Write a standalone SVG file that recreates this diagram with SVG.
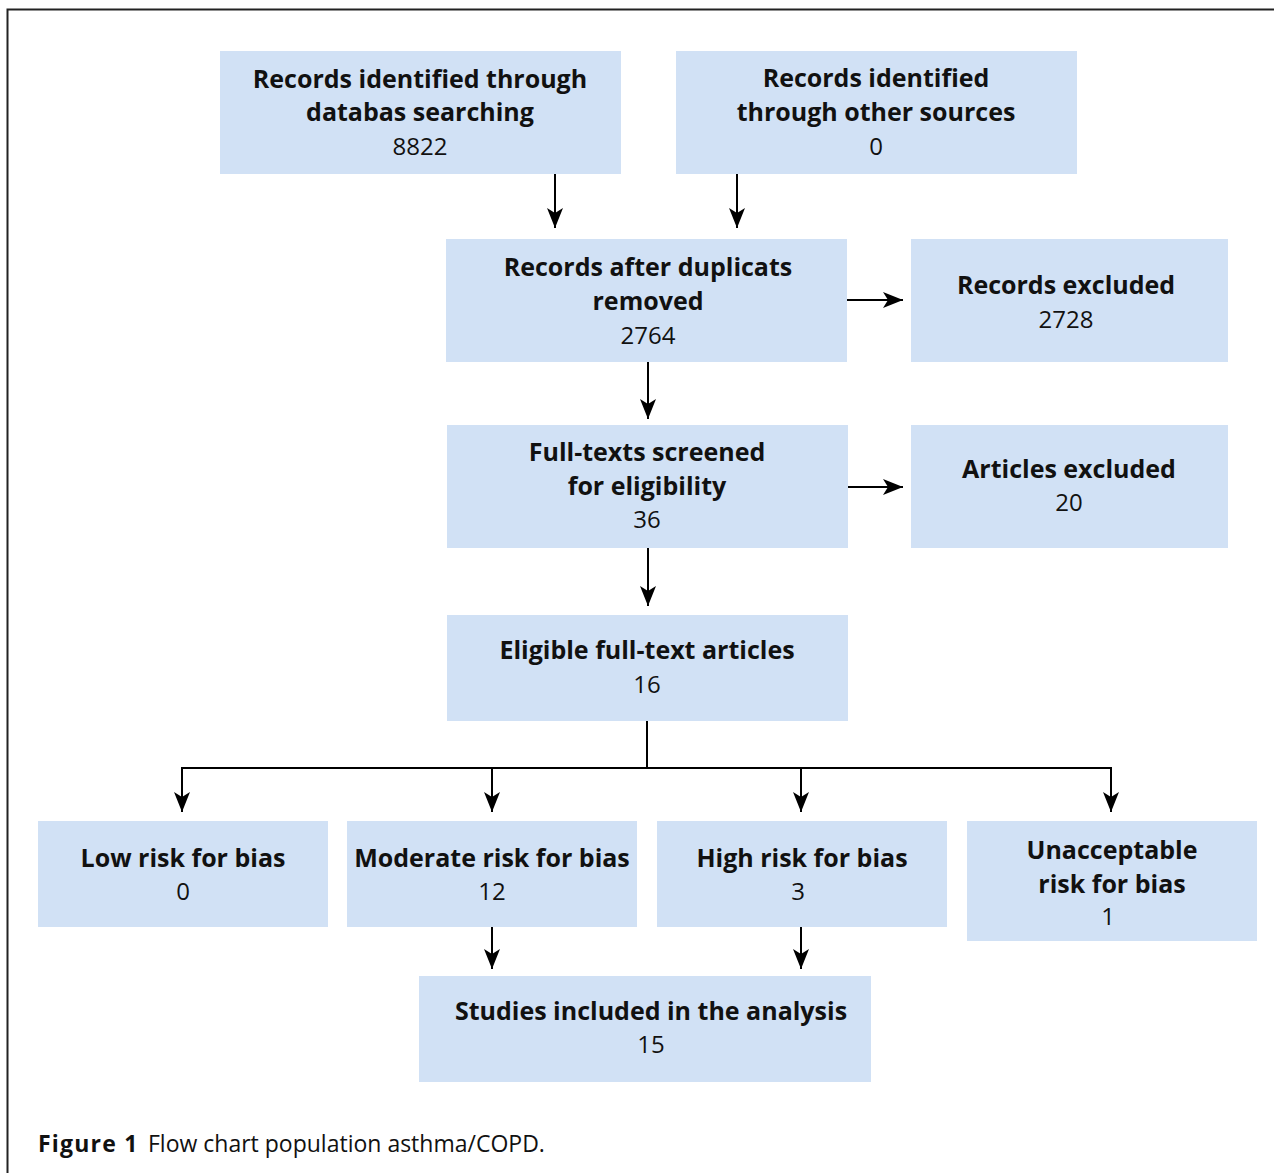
<svg xmlns="http://www.w3.org/2000/svg" width="1274" height="1173" viewBox="0 0 1274 1173">
<style>
.box{fill:#d1e1f5}
.t{font-family:"Open Sans","Noto Sans",sans-serif;font-size:24px;fill:#111;text-anchor:middle}
.b{font-weight:bold;font-size:25px}
.c{stroke:#000;stroke-width:2;fill:none}
</style>
<defs>
<marker id="ah" viewBox="0 0 20 16" refX="20" refY="8" markerWidth="20" markerHeight="16" markerUnits="userSpaceOnUse" orient="auto">
<path d="M0,0 L20,8 L0,16 L5,8 z" fill="#000"/>
</marker>
</defs>
<rect width="1274" height="1173" fill="#fff"/>
<path d="M7.5,1173 V9.5 H1274" stroke="#222" stroke-width="2" fill="none"/>
<g id="n1"><rect class="box" x="220" y="51" width="401" height="123"/>
<text class="t b" x="420" y="88">Records identified through</text><text class="t b" x="420" y="121">databas searching</text><text class="t" x="420" y="155">8822</text></g>
<g id="n2"><rect class="box" x="676" y="51" width="401" height="123"/>
<text class="t b" x="876" y="87">Records identified</text><text class="t b" x="876" y="121">through other sources</text><text class="t" x="876" y="155">0</text></g>
<g id="n3"><rect class="box" x="446" y="239" width="401" height="123"/>
<text class="t b" x="648" y="276">Records after duplicats</text><text class="t b" x="648" y="310">removed</text><text class="t" x="648" y="344">2764</text></g>
<g id="n4"><rect class="box" x="911" y="239" width="317" height="123"/>
<text class="t b" x="1066" y="294">Records excluded</text><text class="t" x="1066" y="328">2728</text></g>
<g id="n5"><rect class="box" x="447" y="425" width="401" height="123"/>
<text class="t b" x="647" y="461">Full-texts screened</text><text class="t b" x="647" y="495">for eligibility</text><text class="t" x="647" y="528">36</text></g>
<g id="n6"><rect class="box" x="911" y="425" width="317" height="123"/>
<text class="t b" x="1069" y="478">Articles excluded</text><text class="t" x="1069" y="511">20</text></g>
<g id="n7"><rect class="box" x="447" y="615" width="401" height="106"/>
<text class="t b" x="647" y="659">Eligible full-text articles</text><text class="t" x="647" y="693">16</text></g>
<g id="n8"><rect class="box" x="38" y="821" width="290" height="106"/>
<text class="t b" x="183" y="867">Low risk for bias</text><text class="t" x="183" y="900">0</text></g>
<g id="n9"><rect class="box" x="347" y="821" width="290" height="106"/>
<text class="t b" x="492" y="867">Moderate risk for bias</text><text class="t" x="492" y="900">12</text></g>
<g id="n10"><rect class="box" x="657" y="821" width="290" height="106"/>
<text class="t b" x="802" y="867">High risk for bias</text><text class="t" x="798" y="900">3</text></g>
<g id="n11"><rect class="box" x="967" y="821" width="290" height="120"/>
<text class="t b" x="1112" y="859">Unacceptable</text><text class="t b" x="1112" y="893">risk for bias</text><text class="t" x="1108" y="925">1</text></g>
<g id="n12"><rect class="box" x="419" y="976" width="452" height="106"/>
<text class="t b" x="651" y="1020">Studies included in the analysis</text><text class="t" x="651" y="1053">15</text></g>
<g id="connectors">
<path class="c" d="M555,174 V228" marker-end="url(#ah)"/>
<path class="c" d="M737,174 V228" marker-end="url(#ah)"/>
<path class="c" d="M648,362 V419" marker-end="url(#ah)"/>
<path class="c" d="M847,300 H903" marker-end="url(#ah)"/>
<path class="c" d="M848,487 H903" marker-end="url(#ah)"/>
<path class="c" d="M648,548 V606" marker-end="url(#ah)"/>
<path class="c" d="M647,721 V768 M182,768 H1112"/>
<path class="c" d="M182,767 V812" marker-end="url(#ah)"/>
<path class="c" d="M492,767 V812" marker-end="url(#ah)"/>
<path class="c" d="M801,767 V812" marker-end="url(#ah)"/>
<path class="c" d="M1111,767 V812" marker-end="url(#ah)"/>
<path class="c" d="M492,927 V969" marker-end="url(#ah)"/>
<path class="c" d="M801,927 V969" marker-end="url(#ah)"/>
</g>
<text y="1152" style="font-family:'Open Sans','Noto Sans',sans-serif;font-size:23px;fill:#111"><tspan x="38" font-weight="bold" letter-spacing="1.2">Figure 1</tspan><tspan x="148">Flow chart population asthma/COPD.</tspan></text>
</svg>
